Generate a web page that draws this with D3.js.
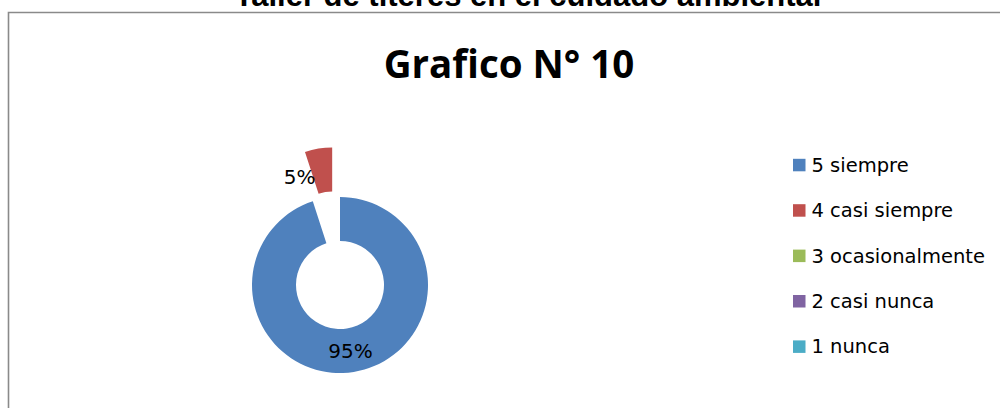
<!DOCTYPE html>
<html>
<head>
<meta charset="utf-8">
<script src="https://cdn.jsdelivr.net/npm/d3@7"></script>
<style>
  html, body { margin: 0; padding: 0; background: #fff; }
  svg { display: block; }
</style>
</head>
<body>
<svg id="chart" width="1000" height="408"></svg>
<script>
// ---- data ----
const categories = ["5 siempre", "4 casi siempre", "3 ocasionalmente", "2 casi nunca", "1 nunca"];
const values = [95, 5, 0, 0, 0];
const labels = ["95%", "5%", "", "", ""];
const colors = ["#4F81BD", "#C0504D", "#9BBB59", "#8064A2", "#4BACC6"];
const outerTitle = "Taller de titeres en el cuidado ambiental";
const chartTitle = "Grafico N° 10";

const svg = d3.select("#chart");

// outer title (clipped at top)
svg.append("text")
  .attr("x", 528).attr("y", 6)
  .attr("text-anchor", "middle")
  .attr("font-family", "Liberation Sans, Arial, sans-serif")
  .attr("font-weight", "bold")
  .attr("font-size", 31)
  .attr("fill", "#000")
  .text(outerTitle);

// chart border (top + left visible)
svg.append("path")
  .attr("d", "M8.5,408 L8.5,12.5 L1000,12.5")
  .attr("fill", "none")
  .attr("stroke", "#8a8a8a")
  .attr("stroke-width", 1.6);

// chart title
svg.append("text")
  .attr("x", 509).attr("y", 77.5)
  .attr("text-anchor", "middle")
  .attr("font-family", "Open Sans, sans-serif")
  .attr("font-weight", "bold")
  .attr("font-size", 38.5)
  .attr("fill", "#000")
  .text(chartTitle);

// doughnut
const cx = 340, cy = 285, R = 88, r = 44, explode = 50;
const pie = d3.pie().sort(null).value(d => d)(values);
const arc = d3.arc().innerRadius(r).outerRadius(R);
const labelArc = d3.arc().innerRadius(68).outerRadius(68);

const g = svg.append("g").attr("transform", `translate(${cx},${cy})`);

pie.forEach((p, i) => {
  if (p.value <= 0) return;
  const mid = (p.startAngle + p.endAngle) / 2;
  const off = i === 0 ? 0 : explode;
  const dx = Math.sin(mid) * off, dy = -Math.cos(mid) * off;
  const sg = g.append("g").attr("transform", `translate(${dx},${dy})`);
  sg.append("path").attr("d", arc(p)).attr("fill", colors[i]);
});

pie.forEach((p, i) => {
  if (p.value <= 0) return;
  const mid = (p.startAngle + p.endAngle) / 2;
  const off = i === 0 ? 0 : explode;
  const dx = Math.sin(mid) * off, dy = -Math.cos(mid) * off;
  // small slices: label pushed counter-clockwise beside the slice
  const shift = (p.endAngle - p.startAngle) < 0.5 ? -0.35 : 0;
  const a = mid + shift;
  const lx = dx + Math.sin(a) * 67, ly = dy - Math.cos(a) * 67;
  g.append("text")
    .attr("x", lx).attr("y", ly)
    .attr("text-anchor", "middle")
    .attr("dominant-baseline", "central")
    .attr("font-family", "DejaVu Sans, sans-serif")
    .attr("font-size", 20)
    .attr("fill", "#000")
    .text(labels[i]);
});

// legend
const leg = svg.append("g");
const y0 = 165.3, step = 45.4;
categories.forEach((c, i) => {
  const y = y0 + i * step;
  leg.append("rect")
    .attr("x", 793).attr("y", y - 6.5)
    .attr("width", 12.5).attr("height", 12.5)
    .attr("fill", colors[i]);
  leg.append("text")
    .attr("x", 811.5).attr("y", y)
    .attr("dominant-baseline", "central")
    .attr("font-family", "DejaVu Sans, sans-serif")
    .attr("font-size", 19.5)
    .attr("fill", "#000")
    .text(c);
});
</script>
</body>
</html>
